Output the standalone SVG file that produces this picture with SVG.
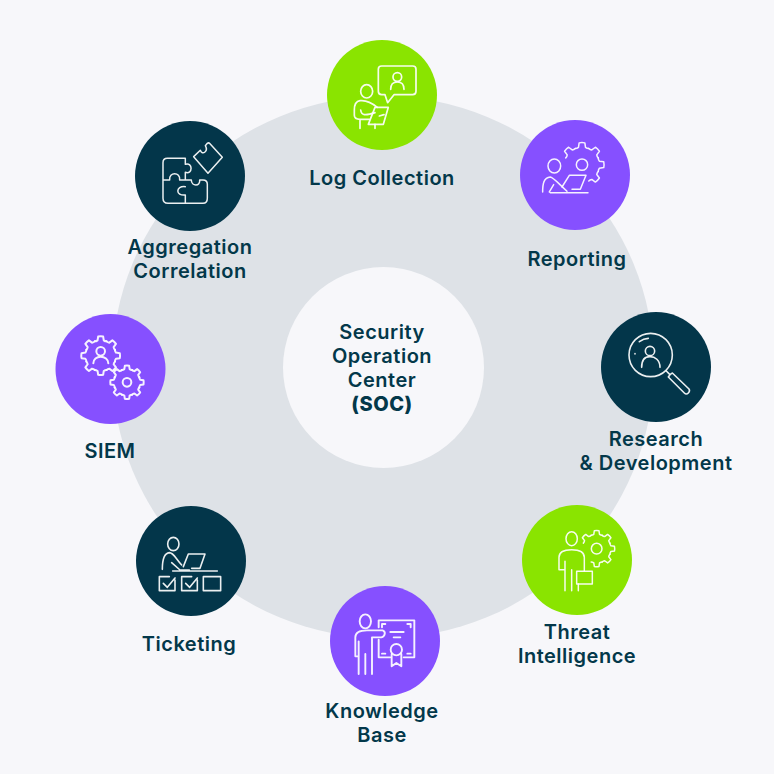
<svg xmlns="http://www.w3.org/2000/svg" width="774" height="774" viewBox="0 0 774 774">
<style>
.i{fill:none;stroke:#fff;stroke-linecap:round;stroke-linejoin:round;vector-effect:non-scaling-stroke;opacity:.92}
.t{font-family:"Inter","Liberation Sans",sans-serif;font-size:20px;font-weight:600;fill:#03384a;text-anchor:middle;letter-spacing:.5px}
.b{font-weight:800}
.p{fill:#8650ff}.g{fill:#8ae400}.d{fill:#03364a}
</style>
<defs>
<path id="s" class="i" d="M-6.1-14.8Q-4.500-14.8-3.200-15.8L-2.600-19.8Q0-20.3 2.600-19.800L3.200-15.800Q4.500-14.800 6.100-14.800"/>
<g id="gear">
<use href="#s"/><use href="#s" transform="rotate(45)"/><use href="#s" transform="rotate(90)"/><use href="#s" transform="rotate(135)"/><use href="#s" transform="rotate(180)"/><use href="#s" transform="rotate(225)"/><use href="#s" transform="rotate(270)"/><use href="#s" transform="rotate(315)"/>
</g>
</defs>
<rect width="774" height="774" fill="#f7f7fa"/>
<g id="ring"><circle cx="383" cy="367" r="271" fill="#dee2e7"/><circle cx="383.500" cy="367.500" r="100.500" fill="#f7f7fa"/></g>
<g id="connectors"/>
<g id="center"><text class="t" x="382" y="339">Security</text><text class="t" x="382" y="363">Operation</text><text class="t" x="382" y="387">Center</text><text class="t b" x="382" y="411">(SOC)</text></g>

<g id="log-collection"><circle class="g" cx="382" cy="95" r="55"/>
<g transform="translate(320 30) scale(.3333)" stroke-width="1.7">
<path class="i" d="M185 108H278Q288 108 288 118V184Q288 194 278 194H222L203 218L195 194H185Q175 194 175 184V118Q175 108 185 108Z"/>
<circle class="i" cx="232" cy="141" r="13"/><path class="i" d="M212 178C212 163 220 156 232 156C244 156 252 163 252 178"/>
<ellipse class="i" cx="140" cy="184" rx="18" ry="20"/>
<path class="i" d="M172 232C155 218 135 210 120 212C106 214 103 226 103 240V256C103 264 110 268 120 268H148M122 240C124 256 135 258 165 248M120 268V295M165 283V295"/>
<path class="i" d="M165 232H205L190 283H145ZM178 258L192 254"/>
</g></g>
<text class="t" x="382" y="185">Log Collection</text>

<g id="reporting"><circle class="p" cx="575" cy="175" r="55"/>
<g transform="translate(512 112) scale(.3333)" stroke-width="1.5">
<g transform="translate(210 158) scale(3.3)"><use href="#s" transform="rotate(-45)"/><use href="#s"/><use href="#s" transform="rotate(45)"/><use href="#s" transform="rotate(90)"/><use href="#s" transform="rotate(135)"/></g>
<circle class="i" cx="210" cy="158" r="17"/>
<ellipse class="i" cx="127" cy="162" rx="19" ry="21"/>
<path class="i" d="M92 240C92 215 95 197 115 195C122 195 130 205 165 238M125 218L112 240M115 242H228"/>
<path class="i" d="M150 225L172 190H222L205 232H180"/>
</g></g>
<text class="t" x="577" y="266">Reporting</text>

<g id="research"><circle class="d" cx="656" cy="367" r="55"/>
<g transform="translate(595 305) scale(.3333)" stroke-width="1.6">
<circle class="i" cx="167" cy="150" r="65"/>
<path class="i" d="M133 110Q146 100 160 100M120 146V147"/>
<circle class="i" cx="165" cy="138" r="14"/><path class="i" d="M140 187C140 165 150 155 165 155C180 155 195 165 195 187"/>
<path class="i" d="M214 198L224 208M232 204L282 252Q286 258 280 264Q274 270 268 264L220 216Q226 206 232 204Z"/>
</g></g>
<text class="t" x="656" y="446">Research</text><text class="t" x="656" y="470">&amp; Development</text>

<g id="threat"><circle class="g" cx="577" cy="560" r="55"/>
<g transform="translate(515 498) scale(.3333)" stroke-width="1.5">
<g transform="translate(245 152) scale(2.7)"><use href="#s" transform="rotate(-45)"/><use href="#s"/><use href="#s" transform="rotate(45)"/><use href="#s" transform="rotate(90)"/><use href="#s" transform="rotate(135)"/><use href="#s" transform="rotate(180)"/></g>
<circle class="i" cx="245" cy="152" r="16"/>
<ellipse class="i" cx="170" cy="122" rx="17" ry="21"/>
<path class="i" d="M132 215V178C132 160 148 155 170 155C192 155 208 160 208 178V218M132 215H148M150 190V278M170 215V278M190 258V278"/>
<rect class="i" x="185" y="220" width="47" height="38"/>
</g></g>
<text class="t" x="577" y="639">Threat</text><text class="t" x="577" y="663">Intelligence</text>

<g id="knowledge"><circle class="p" cx="385" cy="641" r="55"/>
<g transform="translate(322 578) scale(.3333)" stroke-width="1.9">
<ellipse class="i" cx="130" cy="130" rx="17" ry="21"/>
<path class="i" d="M100 235V178C100 162 115 157 135 157H182C192 160 190 176 178 178H150V288M100 235H108M110 190V288M130 228V288"/>
<path class="i" d="M170 148V127H277V238H245M205 238H170V185"/>
<path class="i" d="M205 162H245M215 178H235M180 138L190 138M180 138V148M266 138H256M266 138V148M180 227H190M266 227H256"/>
<circle class="i" cx="223" cy="215" r="17"/>
<path class="i" d="M209 228V265L223 255L238 265V228"/>
</g></g>
<text class="t" x="382" y="718">Knowledge</text><text class="t" x="382" y="742">Base</text>

<g id="ticketing"><circle class="d" cx="191" cy="561" r="55"/>
<g transform="translate(130 500) scale(.3333)" stroke-width="1.6">
<ellipse class="i" cx="130" cy="132" rx="17" ry="20"/>
<path class="i" d="M97 208C97 182 100 160 118 158C130 158 135 172 155 195M125 188L150 210H178M128 213H262"/>
<path class="i" d="M160 200L175 162H225L210 205H185"/>
<path class="i" d="M135 240V272H88V230H118M100 250L112 262L135 234"/>
<path class="i" d="M202 240V272H155V230H185M167 250L179 262L202 234"/>
<rect class="i" x="220" y="230" width="52" height="42"/>
</g></g>
<text class="t" x="189" y="651">Ticketing</text>

<g id="siem"><circle class="p" cx="110.500" cy="369" r="55"/>
<g transform="translate(50 308) scale(.3333)" stroke-width="2">
<g transform="translate(152 143) scale(2.9)"><use href="#gear"/></g>
<circle class="i" cx="152" cy="130" r="13"/><path class="i" d="M130 166C130 154 140 146 152 146C164 146 175 154 175 166"/>
<g transform="translate(231 223) scale(2.5)"><use href="#gear"/></g>
<circle class="i" cx="231" cy="223" r="13"/>
</g></g>
<text class="t" x="110" y="458">SIEM</text>

<g id="aggregation"><circle class="d" cx="190" cy="176" r="55"/>
<g transform="translate(128 115) scale(.3333)" stroke-width="1.5">
<path class="i" d="M172 148V130H118Q105 130 105 143V250Q105 265 120 265H225Q238 265 238 250V208Q238 195 225 195H215C218 215 190 215 190 195H172V172C195 180 195 140 172 148ZM105 195H125C122 170 158 170 155 195H172M172 215C142 212 142 244 172 240M172 240V265"/>
<path class="i" d="M197 125L217 106C222 122 242 110 232 92L238 85Q242 82 246 86L283 127L240 175Z"/>
</g></g>
<text class="t" x="190" y="254">Aggregation</text><text class="t" x="190" y="278">Correlation</text>
</svg>
